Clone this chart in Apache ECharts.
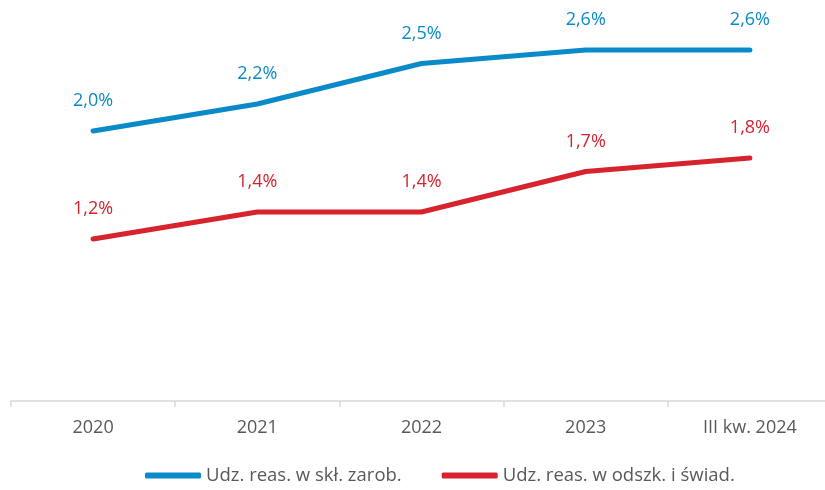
<!DOCTYPE html>
<html>
<head>
<meta charset="utf-8">
<script src="https://cdn.jsdelivr.net/npm/echarts@6/dist/echarts.min.js"></script>
<style>
  html, body { margin: 0; padding: 0; background: #fff; overflow: hidden; }
  /* plot runs a few px past the right edge, like the original */
  #chart { width: 832px; height: 490px; }
</style>
</head>
<body>
<div id="chart"></div>
<script>
const categories = ["2020", "2021", "2022", "2023", "III kw. 2024"]
const wagesShare = [2.0, 2.2, 2.5, 2.6, 2.6]
const damagesShare = [1.2, 1.4, 1.4, 1.7, 1.8]

const seriesNames = ["Udz. reas. w skł. zarob.", "Udz. reas. w odszk. i świad."]
const colors = ["#0b8ac9", "#d7232e"]

const myChart = echarts.init(document.getElementById("chart"))

const fmt = (p) => p.value.toFixed(1).replace(".", ",") + "%"

// symbol kept tiny (hidden under the line) so the labels still render
const makeSeries = (name, data, color) => ({
  name: name,
  type: "line",
  data: data,
  symbol: "circle",
  symbolSize: 2,
  showSymbol: true,
  lineStyle: { color: color, width: 5, cap: "round" },
  itemStyle: { color: color },
  label: {
    show: true,
    position: "top",
    distance: 20,
    color: color,
    fontSize: 18,
    fontFamily: "Open Sans",
    formatter: fmt,
  },
})

const option = {
  animation: false,
  textStyle: { fontFamily: "Open Sans" },
  legend: {
    bottom: 0,
    left: 140,
    itemWidth: 56,
    itemHeight: 6,
    itemGap: 40,
    icon: "roundRect",
    textStyle: { color: "#595959", fontSize: 18.5, fontFamily: "Open Sans" },
    data: seriesNames,
  },
  grid: {
    left: 11,
    right: 0,
    top: 0,
    bottom: 89,
    containLabel: false,
  },
  xAxis: {
    type: "category",
    data: categories,
    boundaryGap: true,
    axisLine: { lineStyle: { color: "#d9d9d9", width: 1.5 } },
    axisTick: { show: true, length: 6, lineStyle: { color: "#d9d9d9", width: 1.5 } },
    axisLabel: { color: "#595959", fontSize: 18, margin: 18, fontFamily: "Open Sans" },
  },
  yAxis: {
    type: "value",
    min: 0,
    max: 2.97,
    show: false,
    splitLine: { show: false },
  },
  series: [
    makeSeries(seriesNames[0], wagesShare, colors[0]),
    makeSeries(seriesNames[1], damagesShare, colors[1]),
  ],
}

myChart.setOption(option)
</script>
</body>
</html>
